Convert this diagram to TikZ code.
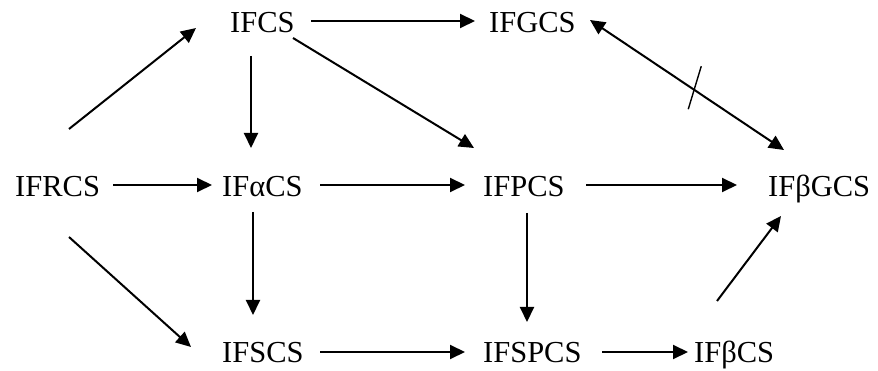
\documentclass[tikz,border=0pt]{standalone}
\usepackage{fontspec}
\setmainfont{Liberation Serif}
\usetikzlibrary{arrows.meta,calc}
\begin{document}
\begin{tikzpicture}[x=1pt,y=-1pt,
  lbl/.style={anchor=base west,inner sep=0pt,font=\fontsize{30.5}{36}\selectfont},
  arr/.style={line width=2pt,-{Triangle[length=15pt,width=14pt]}},
  darr/.style={line width=2pt,{Triangle[length=15pt,width=14pt]}-{Triangle[length=15pt,width=14pt]}},
  tick/.style={line width=1.4pt}]
\useasboundingbox (0,0) rectangle (878,371);
\fill[white] (0,0) rectangle (878,371);
% nodes
\node[lbl] (A) at (230,33) {IFCS};
\node[lbl] (B) at (489,33) {IFGCS};
\node[lbl] (C) at (15,197) {IFRCS};
\node[lbl] (D) at (222,197) {IFαCS};
\node[lbl] (E) at (483,197) {IFPCS};
\node[lbl] (F) at (768,197) {IFβGCS};
\node[lbl] (G) at (222,362) {IFSCS};
\node[lbl] (H) at (483,362) {IFSPCS};
\node[lbl] (I) at (694,362) {IFβCS};
% connectors
\draw[arr] ($(A.base west)+(81,-12)$) -- ($(B.base west)+(-14,-12)$);
\draw[arr] ($(A.base west)+(21,23)$) -- ($(D.base west)+(29,-49)$);
\draw[arr] ($(C.base west)+(54,-68)$) -- ($(A.base west)+(-34,-5)$);
\draw[arr] ($(A.base west)+(63,5)$) -- ($(E.base west)+(-9,-49)$);
\draw[darr] ($(B.base west)+(101,-13)$) -- coordinate[pos=0.54] (mid) ($(F.base west)+(16,-47)$);
\draw[tick] ($(mid)+(6.5,-24)$) -- ($(mid)+(-6.5,19)$);
\draw[arr] ($(C.base west)+(98,-12)$) -- ($(D.base west)+(-10,-12)$);
\draw[arr] ($(D.base west)+(98,-12)$) -- ($(E.base west)+(-18,-12)$);
\draw[arr] ($(E.base west)+(103,-12)$) -- ($(F.base west)+(-31,-12)$);
\draw[arr] ($(D.base west)+(31,15)$) -- ($(G.base west)+(31,-47)$);
\draw[arr] ($(C.base west)+(54,40)$) -- ($(G.base west)+(-31,-15)$);
\draw[arr] ($(G.base west)+(98,-10)$) -- ($(H.base west)+(-18,-10)$);
\draw[arr] ($(E.base west)+(44,16)$) -- ($(H.base west)+(44,-40)$);
\draw[arr] ($(H.base west)+(119,-10)$) -- ($(I.base west)+(-6,-10)$);
\draw[arr] ($(I.base west)+(23,-61)$) -- ($(F.base west)+(13,19)$);
\end{tikzpicture}
\end{document}
